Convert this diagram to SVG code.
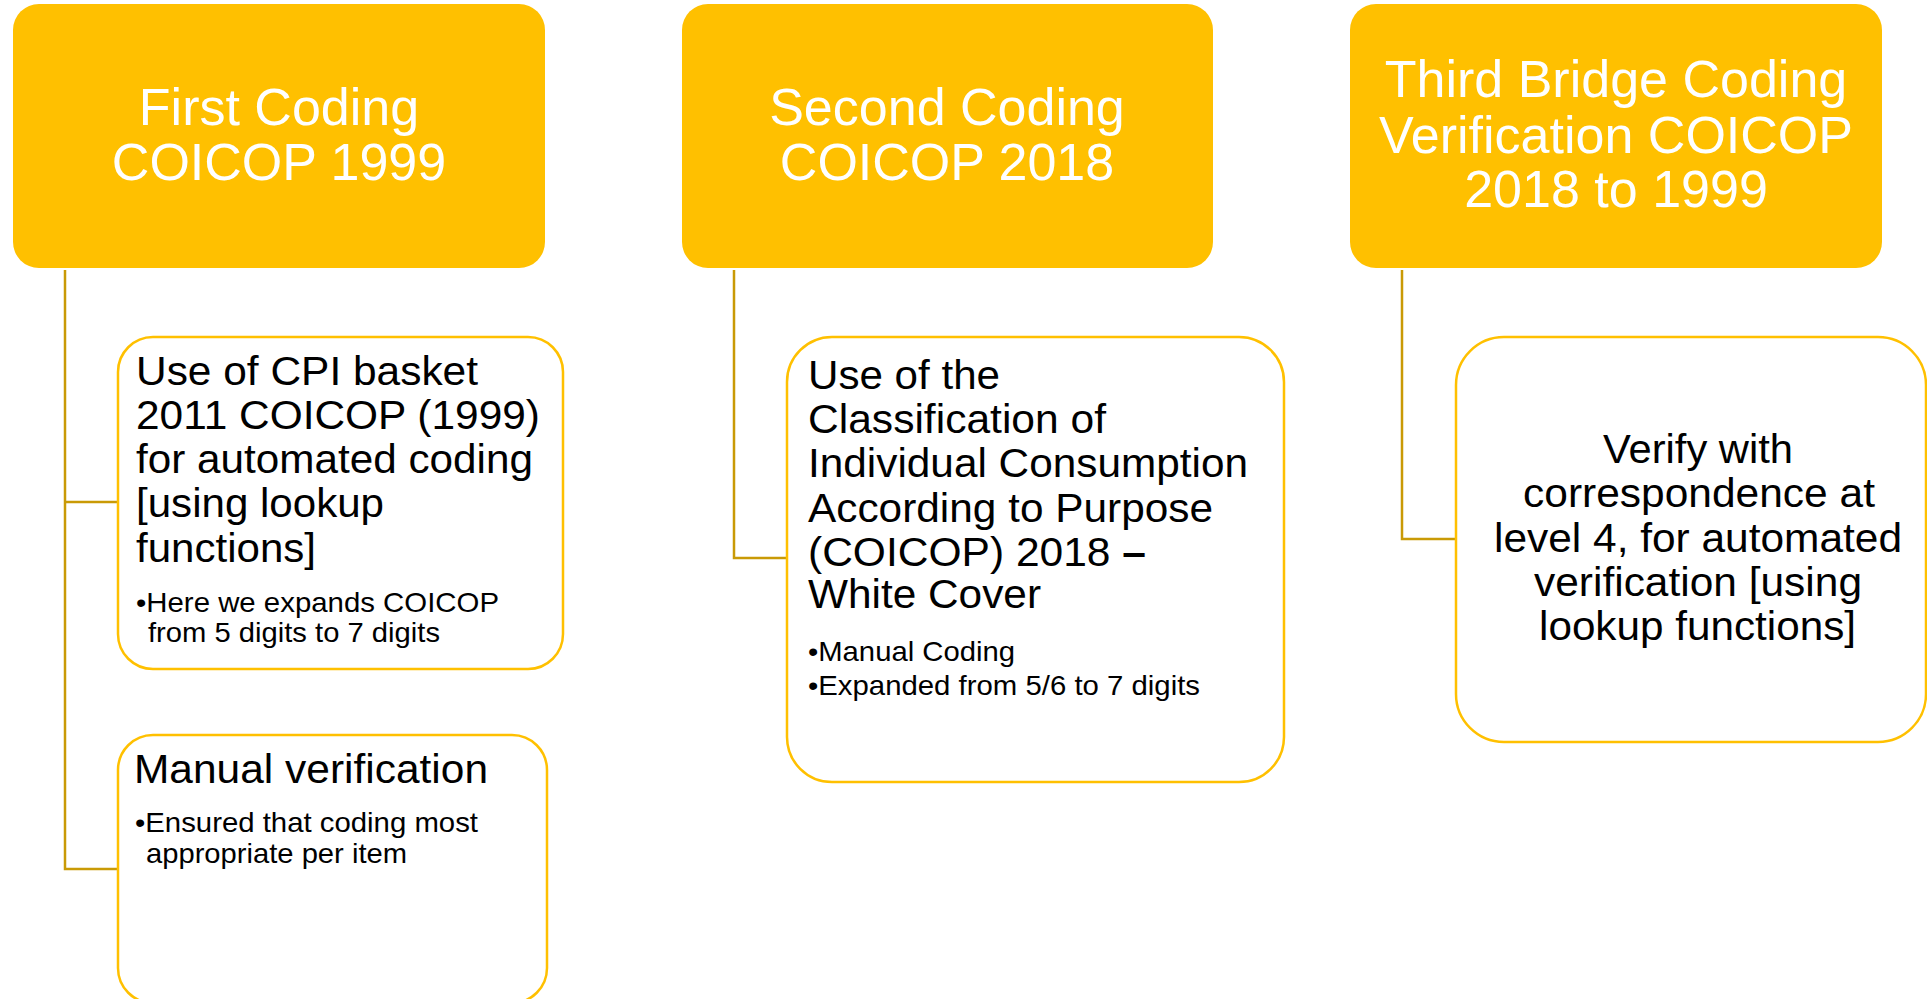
<svg xmlns="http://www.w3.org/2000/svg" width="1927" height="999" viewBox="0 0 1927 999">
<style>
.hdr{fill:#FFC000;}
.box{fill:#FFFFFF;stroke:#FFC000;stroke-width:2.5;}
.conn{fill:none;stroke:#C99A06;stroke-width:2.5;}
text{font-family:"Liberation Sans",Arial,sans-serif;}
.ht{fill:#FFFFFF;font-size:52px;text-anchor:middle;}
.bt{fill:#000000;font-size:41px;}
.st{fill:#000000;font-size:28px;}
</style>
<rect width="1927" height="999" fill="#FFFFFF"/>
<g id="connectors">
<path class="conn" d="M65,270 V869 H118 M65,502 H118"/>
<path class="conn" d="M734,270 V558 H787"/>
<path class="conn" d="M1402,270 V539 H1456"/>
</g>
<g id="header1">
<rect class="hdr" x="13" y="4" width="532" height="264" rx="26" ry="26"/>
<text class="ht" x="279" y="125">First Coding</text>
<text class="ht" x="279" y="180">COICOP 1999</text>
</g>
<g id="header2">
<rect class="hdr" x="682" y="4" width="531" height="264" rx="26" ry="26"/>
<text class="ht" x="947" y="125">Second Coding</text>
<text class="ht" x="947" y="180">COICOP 2018</text>
</g>
<g id="header3">
<rect class="hdr" x="1350" y="4" width="532" height="264" rx="26" ry="26"/>
<text class="ht" x="1616" y="97">Third Bridge Coding</text>
<text class="ht" x="1616" y="153">Verification COICOP</text>
<text class="ht" x="1616" y="207">2018 to 1999</text>
</g>
<g id="box1a">
<rect class="box" x="118" y="337" width="445" height="332" rx="35" ry="35"/>
<text class="bt" x="136" y="385" textLength="342" lengthAdjust="spacingAndGlyphs">Use of CPI basket</text>
<text class="bt" x="136" y="429" textLength="404" lengthAdjust="spacingAndGlyphs">2011 COICOP (1999)</text>
<text class="bt" x="136" y="473" textLength="397" lengthAdjust="spacingAndGlyphs">for automated coding</text>
<text class="bt" x="136" y="517" textLength="248" lengthAdjust="spacingAndGlyphs">[using lookup</text>
<text class="bt" x="136" y="562" textLength="180" lengthAdjust="spacingAndGlyphs">functions]</text>
<text class="st" x="136" y="612" textLength="363" lengthAdjust="spacingAndGlyphs">•Here we expands COICOP</text>
<text class="st" x="148" y="642" textLength="292" lengthAdjust="spacingAndGlyphs">from 5 digits to 7 digits</text>
</g>
<g id="box1b">
<rect class="box" x="118" y="735" width="429" height="268" rx="35" ry="35"/>
<text class="bt" x="134" y="783" textLength="354" lengthAdjust="spacingAndGlyphs">Manual verification</text>
<text class="st" x="135" y="832" textLength="343" lengthAdjust="spacingAndGlyphs">•Ensured that coding most</text>
<text class="st" x="146" y="863" textLength="261" lengthAdjust="spacingAndGlyphs">appropriate per item</text>
</g>
<g id="box2">
<rect class="box" x="787" y="337" width="497" height="445" rx="45" ry="45"/>
<text class="bt" x="808" y="389" textLength="192" lengthAdjust="spacingAndGlyphs">Use of the</text>
<text class="bt" x="808" y="433" textLength="298" lengthAdjust="spacingAndGlyphs">Classification of</text>
<text class="bt" x="808" y="477" textLength="440" lengthAdjust="spacingAndGlyphs">Individual Consumption</text>
<text class="bt" x="808" y="522" textLength="405" lengthAdjust="spacingAndGlyphs">According to Purpose</text>
<text class="bt" x="808" y="566" textLength="338" lengthAdjust="spacingAndGlyphs">(COICOP) 2018 <tspan font-weight="bold">–</tspan></text>
<text class="bt" x="808" y="608" textLength="233" lengthAdjust="spacingAndGlyphs">White Cover</text>
<text class="st" x="808" y="661" textLength="207" lengthAdjust="spacingAndGlyphs">•Manual Coding</text>
<text class="st" x="808" y="695" textLength="392" lengthAdjust="spacingAndGlyphs">•Expanded from 5/6 to 7 digits</text>
</g>
<g id="box3">
<rect class="box" x="1456" y="337" width="470" height="405" rx="48" ry="48"/>
<text class="bt" x="1603" y="463" textLength="190" lengthAdjust="spacingAndGlyphs">Verify with</text>
<text class="bt" x="1523" y="507" textLength="352" lengthAdjust="spacingAndGlyphs">correspondence at</text>
<text class="bt" x="1494" y="552" textLength="408" lengthAdjust="spacingAndGlyphs">level 4, for automated</text>
<text class="bt" x="1534" y="596" textLength="328" lengthAdjust="spacingAndGlyphs">verification [using</text>
<text class="bt" x="1539" y="640" textLength="317" lengthAdjust="spacingAndGlyphs">lookup functions]</text>
</g>
</svg>
